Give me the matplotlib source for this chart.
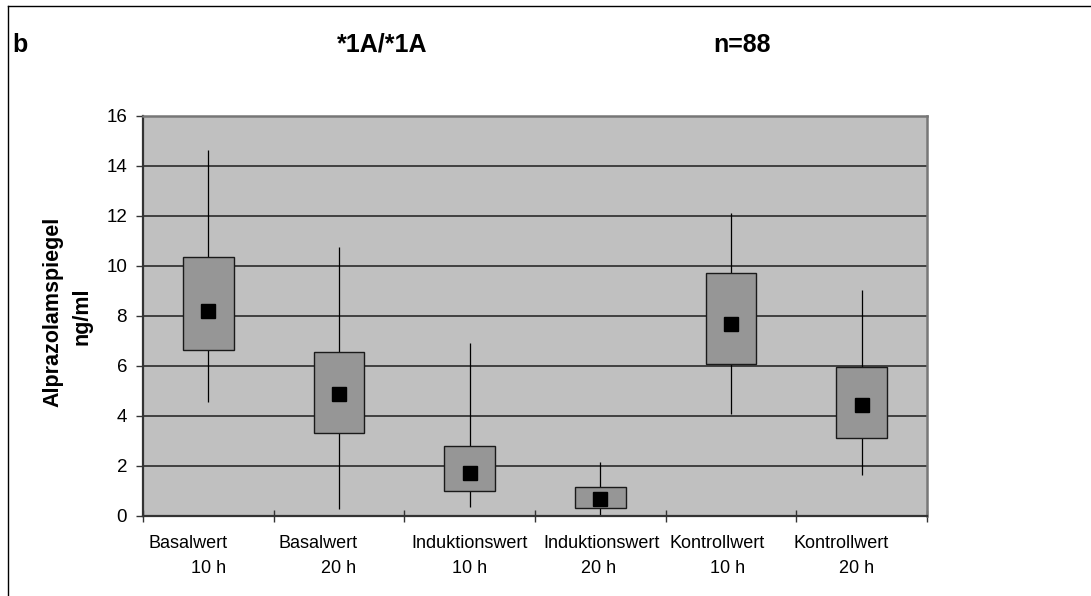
import matplotlib
matplotlib.use("Agg")
import matplotlib.pyplot as plt
import matplotlib.transforms as mtransforms
import numpy as np

# ---- data ----
cat_line1 = ["Basalwert", "Basalwert", "Induktionswert", "Induktionswert", "Kontrollwert", "Kontrollwert"]
cat_line2 = ["10 h", "20 h", "10 h", "20 h", "10 h", "20 h"]
box_low = [6.64, 3.31, 0.99, 0.31, 6.07, 3.13]
box_high = [10.35, 6.55, 2.81, 1.17, 9.71, 5.97]
whisk_low = [4.55, 0.29, 0.35, 0.04, 4.07, 1.64]
whisk_high = [14.64, 10.77, 6.91, 2.17, 12.13, 9.04]
means = [8.21, 4.89, 1.73, 0.67, 7.67, 4.44]
yticks = [0, 2, 4, 6, 8, 10, 12, 14, 16]

plt.rcParams['font.family'] = ['Liberation Sans', 'DejaVu Sans']

W, H = 1091, 596
fig = plt.figure(figsize=(W / 100, H / 100), dpi=100)
fig.patch.set_facecolor('white')

ax = fig.add_axes([143 / W, (H - 516) / H, (927 - 143) / W, (516 - 116) / H])
ax.set_facecolor('#C0C0C0')

x = np.arange(1, len(cat_line1) + 1)
lo = np.array(box_low)
hi = np.array(box_high)

ax.vlines(x, whisk_low, lo, colors='black', lw=0.9, zorder=2)
ax.vlines(x, hi, whisk_high, colors='black', lw=0.9, zorder=2)
ax.bar(x, hi - lo, bottom=lo, width=0.386, color='#969696',
       edgecolor='#1a1a1a', linewidth=1.0, zorder=3)
ax.plot(x, means, linestyle='none', marker='s', markersize=9.5,
        color='black', zorder=4)

ax.set_xlim(0.5, len(cat_line1) + 0.5)
ax.set_ylim(0, 16)
ax.set_yticks(yticks)
ax.set_yticklabels([str(v) for v in yticks], fontsize=13.5)
ax.yaxis.grid(True, color='#2a2a2a', lw=1.2)
ax.set_axisbelow(True)

ax.set_xticks(np.arange(0.5, len(cat_line1) + 1.0, 1.0))
ax.set_xticklabels([])
ax.tick_params(axis='x', direction='inout', length=8.5, width=1.0, color='#333333')
ax.tick_params(axis='y', direction='out', length=5, width=1.0, pad=6.5, color='#333333')

for s in ['left', 'bottom']:
    ax.spines[s].set_color('#333333')
    ax.spines[s].set_linewidth(1.6)
for s in ['top', 'right']:
    ax.spines[s].set_color('#777777')
    ax.spines[s].set_linewidth(1.8)

# category labels (two lines)
off1 = [-20, -21, 0, 1, -13.5, -20.5]
off2 = [0, 0, 0, -2, -3, -5]
blend = mtransforms.blended_transform_factory(ax.transData, fig.transFigure)
for i, xi in enumerate(x):
    t1 = mtransforms.offset_copy(blend, fig=fig, x=off1[i], y=0, units='dots')
    t2 = mtransforms.offset_copy(blend, fig=fig, x=off2[i], y=0, units='dots')
    ax.text(xi, 1 - 548 / H, cat_line1[i], transform=t1, ha='center', va='baseline', fontsize=13)
    ax.text(xi, 1 - 573 / H, cat_line2[i], transform=t2, ha='center', va='baseline', fontsize=13)

# y label
fig.text(53 / W, 1 - 312 / H, "Alprazolamspiegel", rotation=90, ha='center', va='center',
         fontsize=15.5, fontweight='bold')
fig.text(82 / W, 1 - 316 / H, "ng/ml", rotation=90, ha='center', va='center',
         fontsize=15.5, fontweight='bold')

# titles
fig.text(12 / W, 1 - 52 / H, "b", ha='left', va='baseline', fontsize=18, fontweight='bold')
fig.text(382 / W, 1 - 52 / H, "*1A/*1A", ha='center', va='baseline', fontsize=18, fontweight='bold')
fig.text(742 / W, 1 - 52 / H, "n=88", ha='center', va='baseline', fontsize=18, fontweight='bold')

# figure frame (top and left edges)
fig.add_artist(plt.Line2D([8 / W, 8 / W], [0, 1 - 6 / H], transform=fig.transFigure,
                          color='black', lw=1.0))
fig.add_artist(plt.Line2D([8 / W, 1], [1 - 6 / H, 1 - 6 / H], transform=fig.transFigure,
                          color='black', lw=1.0))

fig.savefig("out.png", dpi=100)
